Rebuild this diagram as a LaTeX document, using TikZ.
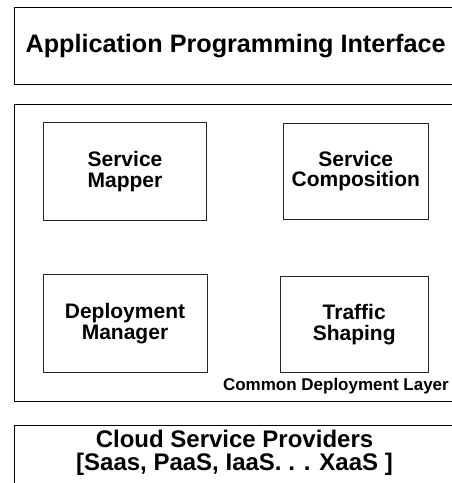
\documentclass[tikz,border=0pt]{standalone}
\usepackage{fontspec}
\setmainfont{Liberation Sans}
\begin{document}
\begin{tikzpicture}[x=1pt,y=-1pt]

	\tikzstyle{layer_box} = [rectangle, draw=black, line width=0.9pt, inner sep=0pt]
	\tikzstyle{layer_text} = [align=center, font=\fontsize{25.2}{23.3}\selectfont\bfseries]
	\tikzstyle{module_box} = [rectangle, draw=black!85, line width=0.9pt, align=center, font=\fontsize{21}{20.7}\selectfont\bfseries]

	\useasboundingbox (0,0) rectangle (452,483);
	\clip (0,0) rectangle (452,483);

%------------------------------------------------------------
	\node[layer_box, layer_text, minimum width=442.7pt, minimum height=76.7pt] (api) at (235.6,45.6) {Application Programming Interface};

%------------------------------------------------------------
	\node[layer_box, minimum width=442.7pt, minimum height=297pt] (cdl) at (235.6,252.6) {};

	\node[module_box, minimum width=163.4pt, minimum height=97.3pt] (mapper) at (125,171.4) {Service\\Mapper};
	\node[module_box, minimum width=145.5pt, minimum height=96pt] (composition) at (355.8,171) {Service\\Composition};

	\node[module_box, minimum width=164pt, minimum height=98.5pt] (deployment) at (125,323.5) {Deployment\\Manager};
	\node[module_box, minimum width=148.3pt, minimum height=96pt] (traffic) at (354.2,324.7) {Traffic\\Shaping};

	\node[anchor=base east, inner sep=0pt, font=\fontsize{17}{17}\selectfont\bfseries] (cdl_label) at (449,390) {Common Deployment Layer};

%------------------------------------------------------------
	\node[layer_box, minimum width=442.7pt, minimum height=100pt] (csp_box) at (235.6,475.5) {};
	\node[layer_text, font=\fontsize{24}{23.3}\selectfont\bfseries] (csp) at (234.5,453) {Cloud Service Providers\\{}[Saas, PaaS, IaaS. . . XaaS ]};

\end{tikzpicture}
\end{document}
